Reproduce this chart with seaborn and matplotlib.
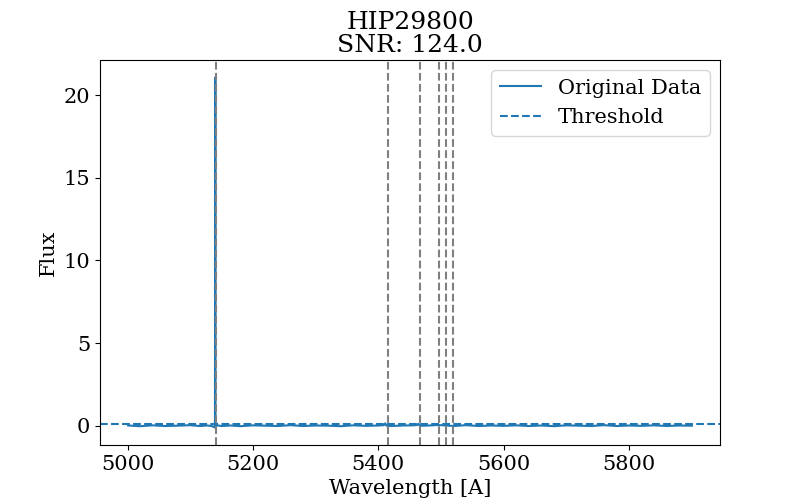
import numpy as np
import pandas as pd
import matplotlib
matplotlib.use("Agg")
import matplotlib.pyplot as plt
import seaborn as sns

STAR = 'HIP29800'
SNR = 124.0
THRESHOLD = 0.1

# spectrum (flat continuum with one strong spike)
wavelength = [5001, 5020, 5040, 5060, 5080, 5100, 5115, 5128, 5135, 5139.4,
              5140.0, 5140.3, 5140.7, 5142, 5150, 5165, 5180, 5200, 5220, 5240,
              5260, 5280, 5300, 5320, 5340, 5360, 5380, 5400, 5409, 5411,
              5413, 5420, 5440, 5455, 5462, 5464, 5466, 5480, 5495, 5505,
              5520, 5540, 5560, 5580, 5600, 5620, 5640, 5660, 5680, 5700,
              5720, 5740, 5760, 5780, 5800, 5820, 5840, 5860, 5880, 5900]
flux = [0.01, -0.03, 0.02, -0.02, 0.00, 0.03, -0.02, 0.01, -0.03, -0.11,
        21.06, 0.04, -0.08, 0.02, -0.02, 0.01, -0.03, 0.02, 0.00, -0.02,
        0.03, -0.02, 0.01, 0.00, -0.03, 0.02, -0.01, 0.01, 0.03, 0.14,
        0.00, -0.02, 0.01, 0.02, 0.04, 0.12, -0.01, 0.01, 0.04, 0.02,
        -0.02, 0.03, -0.02, 0.01, -0.01, 0.02, -0.02, 0.01, -0.03, 0.02,
        0.00, -0.02, 0.03, -0.02, 0.01, -0.01, 0.02, -0.02, 0.01, 0.00]

# marked line positions
line_positions = [5140.4, 5415.4, 5466.6, 5497.2, 5507.6, 5519.3]

df = pd.DataFrame({'Wavelength': wavelength, 'Flux': flux})

plt.rcParams['font.family'] = ['DejaVu Serif']
plt.rcParams['font.size'] = 15

fig, ax = plt.subplots(figsize=(8, 5), dpi=100)
sns.lineplot(data=df, x='Wavelength', y='Flux', ax=ax, sort=False,
             estimator=None, label='Original Data', color='C0', linewidth=1.5)
ax.axhline(THRESHOLD, color='C0', linestyle='--', label='Threshold')
for w in line_positions:
    ax.axvline(w, color='gray', linestyle='--')

ax.set_title('{}\nSNR: {}'.format(STAR, SNR), fontsize=18, linespacing=1.0)
ax.set_xlabel('Wavelength [A]')
ax.set_ylabel('Flux')
ax.legend(loc='upper right')

fig.savefig('out.png', dpi=100)
